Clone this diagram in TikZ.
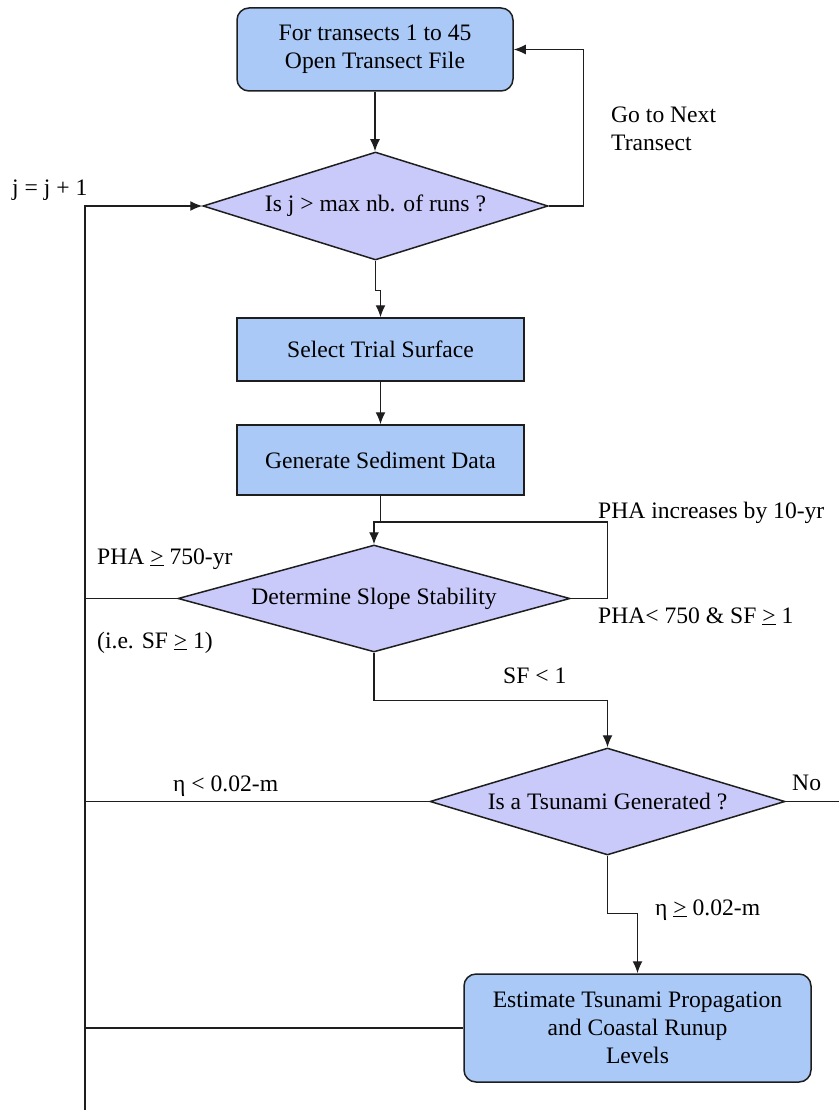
\documentclass[tikz,border=0pt]{standalone}
\usepackage{fontspec}
\setmainfont{Liberation Serif}
\usetikzlibrary{shapes.geometric,arrows.meta}
\definecolor{boxblue}{RGB}{170,201,247}
\definecolor{dialav}{RGB}{202,202,250}
\definecolor{lncol}{RGB}{30,30,30}
\begin{document}
\begin{tikzpicture}[x=1pt,y=-1pt,
  every node/.style={font=\fontsize{23.6}{28}\selectfont},
  box/.style={draw=lncol, line width=1.5pt, fill=boxblue, inner sep=0pt, align=center},
  rbox/.style={box, rounded corners=12pt},
  dia/.style={shape=diamond, draw=lncol, line width=1.5pt, fill=dialav, inner sep=0pt},
  ln/.style={line width=1.4pt, draw=lncol},
  trunk/.style={line width=2.2pt, draw=lncol},
  arr/.style={ln, -{Latex[length=12pt,width=10pt]}},
  lbl/.style={anchor=base west, inner sep=0pt, align=left}
]
\useasboundingbox (0,0) rectangle (839,1110);

% nodes
\node[rbox, minimum width=276pt, minimum height=83pt] (b1) at (375,49.5) {For transects 1 to 45\\Open Transect File};
\node[dia, minimum width=345pt, minimum height=108pt, aspect=3.2] (d1) at (375.5,206) {Is j > max nb. of runs ?};
\node[box, minimum width=287pt, minimum height=63pt] (b2) at (380.5,349.5) {Select Trial Surface};
\node[box, minimum width=287pt, minimum height=70pt] (b3) at (380.5,460) {Generate Sediment Data};
\node[dia, minimum width=392pt, minimum height=107pt, aspect=3.66] (d2) at (374,598.5) {Determine Slope Stability};
\node[dia, minimum width=355pt, minimum height=107pt, aspect=3.3] (d3) at (607.5,801.5) {Is a Tsunami Generated ?};
\node[rbox, minimum width=347pt, minimum height=108pt] (b4) at (637.5,1028) {Estimate Tsunami Propagation\\and Coastal Runup\\Levels};

\coordinate (top) at (85,206);
\coordinate (bot) at (85,1110);
\coordinate (lp) at (374,522);
\coordinate (noend) at (839,801.5);

% connectors
\draw[trunk] (bot) -- ([yshift=1.1pt]top);
\draw[arr] (top) -- (d1.west);
\draw[arr] (b1.south) -- (b1.south |- d1.north);
\draw[arr] (d1.east) -- ++(35,0) |- (b1.east);
\draw[arr] (d1.south) -- ++(0,30) -| (b2.north);
\draw[arr] (b2.south) -- (b3.north);
\draw[ln] (b3.south) -- (b3.south |- lp);
\draw[arr] (d2.east) -- ++(37,0) |- (lp) -- (d2.north);
\draw[ln] (d2.west) -- (d2.west -| top);
\draw[arr] (d2.south) -- ++(0,48) -| (d3.north);
\draw[ln] (d3.west) -- (d3.west -| top);
\draw[ln] (d3.east) -- (noend);
\draw[arr] (d3.south) -- ++(0,58) -| (b4.north);
\draw[ln] (b4.west) -- (b4.west -| top);

% labels
\node[lbl] (lgo) at (611,151) {Go to Next\\Transect};
\node[lbl] (lj) at (12,195) {j = j + 1};
\node[lbl] (linc) at (598,518) {PHA increases by 10-yr};
\node[lbl] (lpha1) at (598,623) {PHA< 750 \& SF \underline{>} 1};
\node[lbl] (lpha2) at (97,564) {PHA \underline{>} 750-yr};
\node[lbl] (lie) at (97,648) {(i.e. SF \underline{>} 1)};
\node[lbl] (lsf) at (503,683) {SF < 1};
\node[lbl] (leta1) at (173,791) {η < 0.02-m};
\node[lbl] (lno) at (792,790) {No};
\node[lbl] (leta2) at (655,915) {η \underline{>} 0.02-m};
\end{tikzpicture}
\end{document}
